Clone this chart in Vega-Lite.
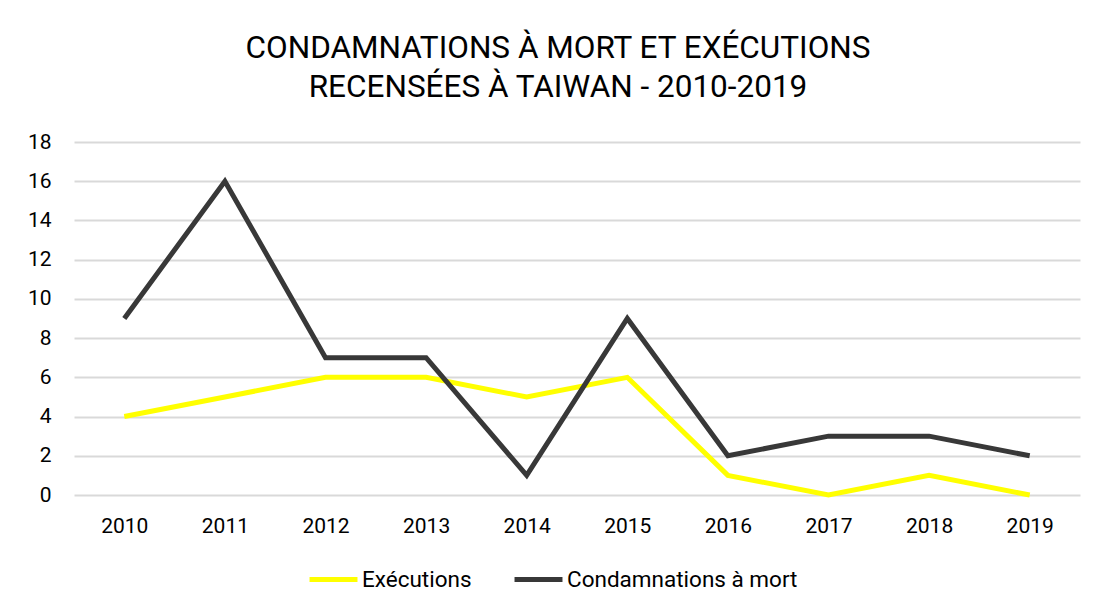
{
  "$schema": "https://vega.github.io/schema/vega-lite/v6.json",
  "width": 1006,
  "height": 353,
  "autosize": {"type": "none"},
  "padding": {"left": 74, "right": 18, "top": 142, "bottom": 115},
  "background": "white",
  "title": {
    "text": ["CONDAMNATIONS À MORT ET EXÉCUTIONS", "RECENSÉES À TAIWAN - 2010-2019"],
    "font": "Roboto",
    "fontSize": 31.5,
    "fontWeight": "normal",
    "color": "#000000",
    "lineHeight": 39,
    "anchor": "middle",
    "dx": -19,
    "offset": 28
  },
  "data": {
    "values": [
      {"annee": "2010", "serie": "Exécutions", "valeur": 4},
      {"annee": "2011", "serie": "Exécutions", "valeur": 5},
      {"annee": "2012", "serie": "Exécutions", "valeur": 6},
      {"annee": "2013", "serie": "Exécutions", "valeur": 6},
      {"annee": "2014", "serie": "Exécutions", "valeur": 5},
      {"annee": "2015", "serie": "Exécutions", "valeur": 6},
      {"annee": "2016", "serie": "Exécutions", "valeur": 1},
      {"annee": "2017", "serie": "Exécutions", "valeur": 0},
      {"annee": "2018", "serie": "Exécutions", "valeur": 1},
      {"annee": "2019", "serie": "Exécutions", "valeur": 0},
      {"annee": "2010", "serie": "Condamnations à mort", "valeur": 9},
      {"annee": "2011", "serie": "Condamnations à mort", "valeur": 16},
      {"annee": "2012", "serie": "Condamnations à mort", "valeur": 7},
      {"annee": "2013", "serie": "Condamnations à mort", "valeur": 7},
      {"annee": "2014", "serie": "Condamnations à mort", "valeur": 1},
      {"annee": "2015", "serie": "Condamnations à mort", "valeur": 9},
      {"annee": "2016", "serie": "Condamnations à mort", "valeur": 2},
      {"annee": "2017", "serie": "Condamnations à mort", "valeur": 3},
      {"annee": "2018", "serie": "Condamnations à mort", "valeur": 3},
      {"annee": "2019", "serie": "Condamnations à mort", "valeur": 2}
    ]
  },
  "mark": {"type": "line", "strokeWidth": 5, "strokeJoin": "miter", "strokeCap": "butt"},
  "encoding": {
    "x": {
      "field": "annee",
      "type": "ordinal",
      "scale": {"type": "point", "padding": 0.5},
      "axis": {
        "title": null,
        "labelAngle": 0,
        "domain": false,
        "ticks": false,
        "grid": false,
        "labelFont": "Roboto",
        "labelFontSize": 21,
        "labelColor": "#000000",
        "labelPadding": 20
      }
    },
    "y": {
      "field": "valeur",
      "type": "quantitative",
      "scale": {"domain": [0, 18], "nice": false},
      "axis": {
        "title": null,
        "values": [0, 2, 4, 6, 8, 10, 12, 14, 16, 18],
        "domain": false,
        "ticks": false,
        "gridColor": "#d9d9d9",
        "gridWidth": 2,
        "labelFont": "Roboto",
        "labelFontSize": 21,
        "labelColor": "#000000",
        "labelPadding": 23
      }
    },
    "color": {
      "field": "serie",
      "type": "nominal",
      "sort": ["Exécutions", "Condamnations à mort"],
      "scale": {"domain": ["Exécutions", "Condamnations à mort"], "range": ["#ffff00", "#383838"]},
      "legend": {
        "title": null,
        "orient": "none",
        "legendX": 233,
        "legendY": 411,
        "direction": "horizontal",
        "symbolType": "stroke",
        "symbolSize": 2300,
        "symbolStrokeWidth": 5,
        "labelFont": "Roboto",
        "labelFontSize": 22.5,
        "labelColor": "#000000",
        "labelLimit": 0,
        "labelOffset": 2,
        "columnPadding": 32
      }
    }
  },
  "config": {
    "view": {"stroke": null}
  }
}
